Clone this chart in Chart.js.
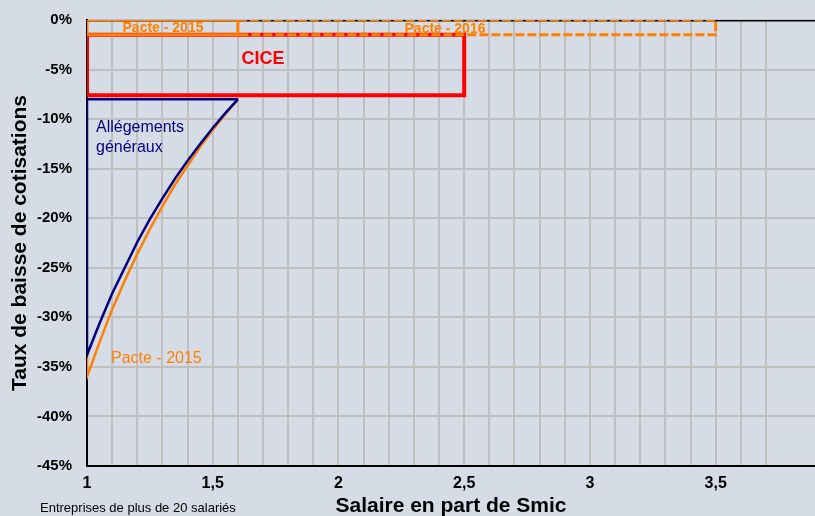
<!DOCTYPE html>
<html lang="fr">
<head>
<meta charset="utf-8">
<title>Taux de baisse de cotisations</title>
<script src="https://cdn.jsdelivr.net/npm/chart.js@4.4.1/dist/chart.umd.min.js"></script>
<style>
  html, body { margin: 0; padding: 0; background: #d6dce5; }
  canvas { display: block; }
</style>
</head>
<body>
<canvas id="chart" width="815" height="516"></canvas>
<script>
// salaire en part de Smic
const salaire = [1, 1.05, 1.1, 1.15, 1.2, 1.25, 1.3, 1.35, 1.4, 1.45, 1.5, 1.55, 1.6];
// allègements généraux (en plus du CICE et du pacte), en %
const allegements = [-33.8, -30.6, -27.6, -25.0, -22.4, -20.1, -18.0, -16.0, -14.2, -12.5, -10.9, -9.4, -8.0];
// allègements avec le pacte 2015
const pacte2015 = [-36.0, -32.5, -29.2, -26.3, -23.6, -21.1, -18.8, -16.6, -14.7, -12.8, -11.1, -9.5, -8.0];

// cadres (rectangles) des dispositifs
const allegementsCadreX = [1.6, 1];
const allegementsCadreY = [-8.0, -8.0];
const pacte2015BoxX = [1, 1.6, 1.6, 1, 1];
const pacte2015BoxY = [0, 0, -1.5, -1.5, 0];
const pacte2016BoxX = [1.6, 3.5, 3.5, 1.6];
const pacte2016BoxY = [0, 0, -1.5, -1.5];
const ciceBoxX = [1, 2.5, 2.5, 1, 1];
const ciceBoxY = [-1.5, -1.5, -7.6, -7.6, -1.5];
const zeroX = [1, 4];
const zeroY = [0, 0];

const yTicks = [0, -5, -10, -15, -20, -25, -30, -35, -40, -45];

const pts = (xs, ys) => xs.map((x, i) => ({ x: x, y: ys[i] }));

const orange = "#ff8000";
const navy = "#000080";
const font = "'Liberation Sans', Arial, sans-serif";

const noPad = s => {
    s.paddingTop = 0; s.paddingBottom = 0; s.paddingLeft = 0; s.paddingRight = 0;
};

const bg = {
    id: "bg",
    beforeDraw(chart) {
        const c = chart.ctx;
        c.save();
        c.fillStyle = "#d6dce5";
        c.fillRect(0, 0, chart.width, chart.height);
        c.restore();
    }
};

// étiquettes dans le graphique
const labels = {
    id: "labels",
    afterDatasetsDraw(chart) {
        const c = chart.ctx;
        c.save();
        c.textBaseline = "middle";
        c.textAlign = "center";
        c.fillStyle = orange;
        c.font = "bold 14px " + font;
        c.fillText("Pacte - 2015", 163, 28);
        c.fillText("Pacte - 2016", 445, 29);
        c.fillStyle = "#ff0000";
        c.font = "bold 18px " + font;
        c.fillText("CICE", 263, 59);
        c.textAlign = "left";
        c.fillStyle = navy;
        c.font = "16px " + font;
        c.fillText("Allégements", 96, 128);
        c.fillText("généraux", 96, 148);
        c.fillStyle = orange;
        c.fillText("Pacte - 2015", 111, 359);
        c.fillStyle = "#000";
        c.font = "13px " + font;
        c.fillText("Entreprises de plus de 20 salariés", 40, 508);
        c.restore();
    }
};

const ctx = document.getElementById("chart").getContext("2d");
new Chart(ctx, {
    type: "scatter",
    data: {
        datasets: [
            {
                label: "Allégements généraux",
                data: pts(allegementsCadreX, allegementsCadreY).concat(pts(salaire, allegements)),
                borderColor: navy, borderWidth: 2.5, order: 1
            },
            {
                label: "Pacte - 2015 (allègements)",
                data: [{ x: salaire[0], y: allegements[0] }].concat(pts(salaire, pacte2015)),
                borderColor: orange, borderWidth: 2.5, order: 2
            },
            {
                label: "Pacte - 2015",
                data: pts(pacte2015BoxX, pacte2015BoxY),
                borderColor: orange, borderWidth: 3, order: 3
            },
            {
                label: "Pacte - 2016",
                data: pts(pacte2016BoxX, pacte2016BoxY),
                borderColor: orange, borderWidth: 3, borderDash: [9, 3], order: 4
            },
            {
                label: "CICE",
                data: pts(ciceBoxX, ciceBoxY),
                borderColor: "#ff0000", borderWidth: 4, order: 5
            },
            {
                label: "0",
                data: pts(zeroX, zeroY),
                borderColor: "#000", borderWidth: 3, order: 6
            }
        ]
    },
    options: {
        responsive: false,
        animation: false,
        showLine: true,
        events: [],
        layout: { padding: { top: 20, right: 0, left: 0, bottom: 0 } },
        elements: {
            point: { radius: 0, hoverRadius: 0 },
            line: { tension: 0, fill: false, borderJoinStyle: "miter" }
        },
        plugins: { legend: { display: false }, tooltip: { enabled: false } },
        scales: {
            x: {
                type: "linear",
                min: 1,
                max: 3.895,
                afterFit: s => { s.height = 50; noPad(s); },
                border: { color: "#000", width: 2 },
                grid: {
                    drawTicks: false,
                    lineWidth: 2,
                    color: c => (c.tick && Math.abs(c.tick.value * 10 - Math.round(c.tick.value * 10)) < 1e-6) ? "#bfbfbf" : "rgba(0,0,0,0)"
                },
                ticks: {
                    stepSize: 0.1,
                    autoSkip: false,
                    maxRotation: 0,
                    padding: 8,
                    color: "#000",
                    font: { family: font, size: 16, weight: "bold" },
                    callback: v => {
                        const t = Math.round(v * 10);
                        if (Math.abs(v * 10 - t) > 1e-6 || t % 5 !== 0) return "";
                        return String(t / 10).replace(".", ",");
                    }
                },
                title: {
                    display: true,
                    text: "Salaire en part de Smic",
                    color: "#000",
                    padding: 0,
                    font: { family: font, size: 21, weight: "bold", lineHeight: 0.9 }
                }
            },
            y: {
                min: -45,
                max: 0,
                afterFit: s => { s.width = 87; noPad(s); },
                afterBuildTicks: s => { s.ticks = yTicks.map(v => ({ value: v })); },
                border: { color: "#000", width: 2 },
                grid: { drawTicks: false, lineWidth: 2, color: "#bfbfbf" },
                ticks: {
                    padding: 15,
                    color: "#000",
                    font: { family: font, size: 15, weight: "bold" },
                    callback: v => v + "%"
                },
                title: {
                    display: true,
                    text: "Taux de baisse de cotisations",
                    color: "#000",
                    padding: { top: 11 },
                    font: { family: font, size: 21, weight: "bold", lineHeight: 0.9 }
                }
            }
        }
    },
    plugins: [bg, labels]
});
</script>
</body>
</html>
